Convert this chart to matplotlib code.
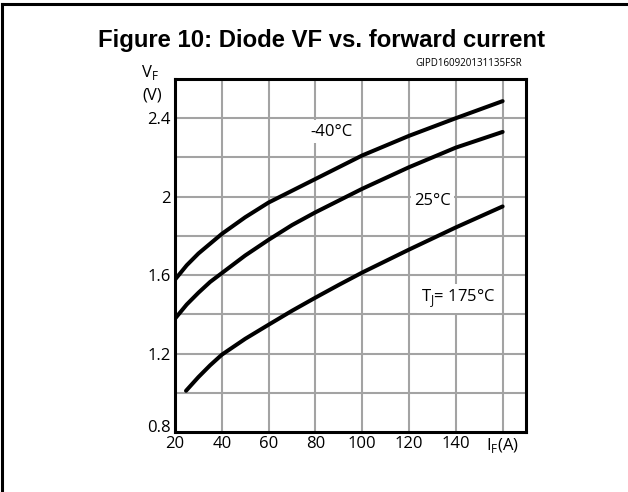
import matplotlib.pyplot as plt
from matplotlib.transforms import ScaledTranslation

# forward current (A) and forward voltage (V)
if_m40 = [20, 25, 30, 35, 40, 50, 60, 70, 80, 90, 100, 120, 140, 160]
vf_m40 = [1.577, 1.65, 1.71, 1.76, 1.81, 1.895, 1.97, 2.03, 2.09, 2.15, 2.21, 2.31, 2.40, 2.487]

if_25 = [20, 25, 30, 35, 40, 50, 60, 70, 80, 90, 100, 120, 140, 160]
vf_25 = [1.378, 1.45, 1.51, 1.565, 1.61, 1.70, 1.78, 1.855, 1.92, 1.98, 2.04, 2.15, 2.25, 2.33]

if_175 = [24.7, 30, 35, 40, 50, 60, 70, 80, 90, 100, 120, 140, 160]
vf_175 = [1.01, 1.08, 1.14, 1.194, 1.275, 1.347, 1.418, 1.485, 1.55, 1.613, 1.73, 1.843, 1.95]

x_ticks = [20, 40, 60, 80, 100, 120, 140, 160]
x_labels = ['20', '40', '60', '80', '100', '120', '140', 'I$_\\mathregular{F}$(A)']
y_ticks = [0.8, 1.2, 1.6, 2.0, 2.4]
y_labels = ['0.8', '1.2', '1.6', '2', '2.4']
y_grid = [1.0, 1.2, 1.4, 1.6, 1.8, 2.0, 2.2, 2.4]

plt.rcParams['font.family'] = ['Open Sans', 'DejaVu Sans']

fig = plt.figure(figsize=(6.28, 4.92), dpi=100)
ax = fig.add_axes([0.2787, 0.122, 0.5589, 0.7175])

# outer frame (only top and left edges are visible in the crop)
fig.add_artist(plt.Line2D([0.003, 0.003], [0.0, 0.992], color='black', lw=2.2,
                          transform=fig.transFigure))
fig.add_artist(plt.Line2D([0.003, 1.0], [0.992, 0.992], color='black', lw=2.2,
                          transform=fig.transFigure))

for xv in x_ticks[1:]:
    ax.axvline(xv, color='#a3a3a3', lw=1.5, zorder=1)
for yv in y_grid:
    ax.axhline(yv, color='#a3a3a3', lw=1.5, zorder=1)

for xs, ys in [(if_m40, vf_m40), (if_25, vf_25), (if_175, vf_175)]:
    ax.plot(xs, ys, color='black', lw=2.9, solid_capstyle='round',
            solid_joinstyle='round', zorder=3)

box = dict(facecolor='white', edgecolor='none', pad=2.5)
ax.text(86.7, 2.33, '-40°C', fontsize=12, ha='center', va='center', bbox=box, zorder=2)
ax.text(130, 1.976, '25°C', fontsize=12, ha='center', va='center', bbox=box, zorder=2)
ax.text(141, 1.48, 'T$_\\mathregular{J}$= 175°C', fontsize=12, ha='center', va='center',
        bbox=box, zorder=2)

ax.set_xlim(20, 170)
ax.set_ylim(0.8, 2.6)
ax.set_xticks(x_ticks)
ax.set_xticklabels(x_labels, fontsize=12)
ax.set_yticks(y_ticks)
ax.set_yticklabels(y_labels, fontsize=12)
ax.tick_params('both', length=0, width=0)
ax.tick_params('x', pad=3)
ax.tick_params('y', pad=3)
for sp in ax.spines.values():
    sp.set_linewidth(2.2)
    sp.set_zorder(4)

fig.canvas.draw()
lbl = ax.get_yticklabels()[0]
lbl.set_transform(lbl.get_transform() + ScaledTranslation(0, 6 / 100, fig.dpi_scale_trans))

fig.text(150 / 628, 1 - 72 / 492, 'V$_\\mathregular{F}$', fontsize=12, ha='center', va='center')
fig.text(152 / 628, 1 - 95 / 492, '(V)', fontsize=12, ha='center', va='center')

fig.text(321 / 628, 1 - 40 / 492, 'Figure 10: Diode VF vs. forward current',
         fontsize=17.2, fontweight='bold', family='Liberation Sans', ha='center', va='center')
fig.text(522 / 628, 1 - 63 / 492, 'GIPD160920131135FSR', fontsize=7,
         ha='right', va='center')

fig.savefig('out.png', dpi=100)
